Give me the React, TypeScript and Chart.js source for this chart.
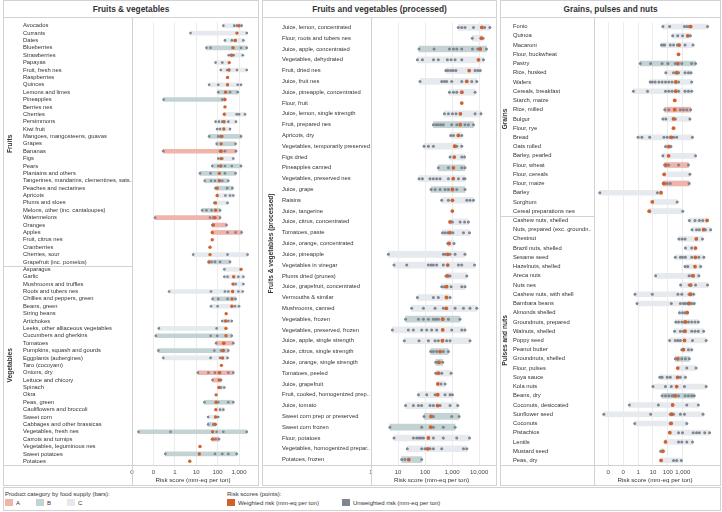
import React, { useEffect, useRef } from "react";
import { Chart, registerables } from "chart.js";

Chart.register(...registerables);

const FONT = "'Liberation Sans', Arial, Helvetica, sans-serif";
Chart.defaults.font.family = FONT;

const CAT_COLORS: Record<string, string> = { A: "#efb4ab", B: "#c3d3d4", C: "#e6eaee" };
const WEIGHTED_COLOR = "#d0602e";
const UNWEIGHTED_COLOR = "#7e8690";
const LINE = "#d2d2d2";
const AXIS_TITLE = "Risk score (mm-eq per ton)";

// ---------------- Panel 1: Fruits & vegetables ----------------
const labels1 = [
  "Avocados", "Currants", "Dates", "Blueberries", "Strawberries", "Papayas", "Fruit, fresh nes", "Raspberries",
  "Quinces", "Lemons and limes", "Pineapples", "Berries nes", "Cherries", "Persimmons", "Kiwi fruit",
  "Mangoes, mangosteens, guavas", "Grapes", "Bananas", "Figs", "Pears", "Plantains and others",
  "Tangerines, mandarins, clementines, sats..", "Peaches and nectarines", "Apricots", "Plums and sloes",
  "Melons, other (inc. cantaloupes)", "Watermelons", "Oranges", "Apples", "Fruit, citrus nes", "Cranberries",
  "Cherries, sour", "Grapefruit (inc. pomelos)",
  "Asparagus", "Garlic", "Mushrooms and truffles", "Roots and tubers nes", "Chillies and peppers, green",
  "Beans, green", "String beans", "Artichokes", "Leeks, other alliaceous vegetables", "Cucumbers and gherkins",
  "Tomatoes", "Pumpkins, squash and gourds", "Eggplants (aubergines)", "Taro (cocoyam)", "Onions, dry",
  "Lettuce and chicory", "Spinach", "Okra", "Peas, green", "Cauliflowers and broccoli", "Sweet corn",
  "Cabbages and other brassicas", "Vegetables, fresh nes", "Carrots and turnips", "Vegetables, leguminous nes",
  "Sweet potatoes", "Potatoes",
];
const categories1 = [
  "C", "C", "C", "B", "C", "C", "C", "C", "C", "B", "B", "C", "C", "C", "C", "B", "B", "A", "C", "B", "B", "B",
  "B", "C", "C", "B", "A", "A", "A", "C", "C", "C", "B",
  "C", "C", "C", "C", "B", "C", "C", "C", "C", "B", "A", "B", "C", "C", "A", "A", "C", "C", "B", "C", "C", "B",
  "B", "A", "C", "B", "A",
];
const weighted1 = [
  1000, 800, 650, 530, 450, 350, 340, 290, 290, 235, 220, 220, 205, 200, 195, 145, 145, 145, 145, 140, 120, 120,
  95, 95, 80, 80, 75, 63, 56, 56, 44, 44, 39,
  1240, 560, 520, 500, 470, 460, 250, 235, 245, 245, 190, 185, 170, 150, 120, 118, 115, 85, 85, 82, 80, 78,
  58, 57, 15, 14, 5,
];
const unweighted1: number[][] = [
  [185, 600, 800, 1330], [5.4, 2300], [220, 460, 700, 1600], [30, 47, 500, 1240, 2300], [330, 560, 1500],
  [80, 165], [140, 280, 800, 2300], [], [40, 107, 870, 1240], [107, 380, 870], [0.3, 165], [],
  [780, 1000, 1900], [80, 115, 165, 316, 720], [95, 130, 380], [40, 107, 165, 1240], [90, 690],
  [0.29, 130, 220, 720], [107, 165, 540], [56, 107, 220, 460, 1240], [15, 47, 220, 690], [25, 49, 75, 165, 316],
  [80, 280, 490], [230, 380, 540], [70, 290], [19, 30, 52, 130], [0.12, 44, 63, 130], [56, 260],
  [290, 690, 1330], [], [], [7.2, 290, 2500], [52, 75, 130, 380],
  [205], [205, 290, 930, 1600], [690, 1600], [0.54, 49, 220, 316, 930, 1480], [58, 107, 290, 690],
  [49, 100, 645, 1000], [], [165, 316, 457], [0.18, 90], [0.13, 47, 95, 457], [85, 205, 540],
  [0.17, 70, 145, 316], [0.29, 47, 130, 290], [], [12, 37, 75, 130, 316, 540], [58, 145], [145, 205], [],
  [24, 107, 316, 540], [130, 185], [36, 107], [36, 63], [0.02, 0.63, 90, 185, 2300], [80, 115], [],
  [0.36, 75, 165, 316, 780], [],
];
const groupNames1 = ["Fruits", "Vegetables"];
const groupSizes1 = [33, 27];
const tickValues1 = [0.01, 0.1, 1, 10, 100, 1000];
const axisRange1 = [0.01, 5000];

// ---------------- Panel 2: Fruits and vegetables (processed) ----------------
const labels2 = [
  "Juice, lemon, concentrated", "Flour, roots and tubers nes", "Juice, apple, concentrated", "Vegetables, dehydrated",
  "Fruit, dried nes", "Juice, fruit nes", "Juice, pineapple, concentrated", "Flour, fruit",
  "Juice, lemon, single strength", "Fruit, prepared nes", "Apricots, dry", "Vegetables, temporarily preserved",
  "Figs dried", "Pineapples canned", "Vegetables, preserved nes", "Juice, grape", "Raisins", "Juice, tangerine",
  "Juice, citrus, concentrated", "Tomatoes, paste", "Juice, orange, concentrated", "Juice, pineapple",
  "Vegetables in vinegar", "Plums dried (prunes)", "Juice, grapefruit, concentrated", "Vermouths & similar",
  "Mushrooms, canned", "Vegetables, frozen", "Vegetables, preserved, frozen", "Juice, apple, single strength",
  "Juice, citrus, single strength", "Juice, orange, single strength", "Tomatoes, peeled", "Juice, grapefruit",
  "Fruit, cooked, homogenized prep..", "Juice, tomato", "Sweet corn prep or preserved", "Sweet corn frozen",
  "Flour, potatoes", "Vegetables, homogenized prepar..", "Potatoes, frozen",
];
const categories2 = [
  "C", "C", "B", "C", "C", "C", "C", "C", "C", "B", "C", "C", "C", "B", "C", "B", "C", "C", "C", "C", "C",
  "C", "C", "C", "C", "C", "C", "B", "C", "C", "B", "B", "C", "C", "C", "C", "B", "B", "C", "C", "B",
];
const weighted2 = [
  12600, 12000, 11000, 9500, 4300, 3500, 2300, 2280, 2030, 2000, 1700, 1250, 1200, 1120, 1100, 1030, 1030, 1020,
  840, 830, 780, 690, 690, 680, 630, 620, 610, 450, 450, 440, 360, 330, 310, 295, 295, 290, 167, 162, 133, 125, 25,
];
const unweighted2: number[][] = [
  [1700, 2270, 3000, 6200, 16000, 25000], [5600, 14000], [60, 215, 800, 1120, 1490, 2280, 5700, 8900, 18700],
  [52, 80, 205, 310, 670, 920, 1290, 2280, 14500], [590, 700, 890, 1100, 1380, 7100, 9000, 11000],
  [65, 414, 520, 630, 970, 2280, 5350, 8200], [800, 1120, 1490, 7100], [], [520, 730, 1030, 1400, 7100, 11700],
  [203, 260, 310, 380, 475, 970, 1490, 3000, 4000, 6200], [890, 1120, 2280], [92, 133, 203, 1490, 2280],
  [840, 2280, 2900], [310, 730, 2280, 3000], [60, 80, 153, 203, 270, 360, 730, 1720, 2640, 3000],
  [167, 235, 360, 550, 730, 1490, 3000], [414, 730, 3500, 4600, 6200], [], [1030, 1990, 2900, 4000],
  [440, 550, 690, 1070, 2640, 4400], [690, 1180], [4.4, 475, 550, 840, 1290, 3000],
  [7.1, 21, 133, 170, 203, 270, 475, 1720, 2280, 6800], [590, 840, 3500], [414, 520, 920, 2280, 3000],
  [52, 203, 310, 840], [32, 87, 235, 475, 1290, 2640, 4600, 8200], [19, 57, 87, 133, 203, 250, 310, 730, 1960],
  [6.2, 24, 37, 75, 115, 175, 270, 970, 2280, 3000], [17, 60, 133, 235, 310, 630, 840, 4600],
  [162, 203, 270, 475, 730], [250, 310, 450], [250, 414, 920], [390, 550], [57, 115, 235, 550, 840, 1030],
  [19, 37, 57, 75, 153, 203, 360, 840, 1620], [92, 203, 970, 1820], [5, 75, 203, 475, 1290],
  [7.1, 37, 49, 60, 71, 87, 203, 475, 1490, 4400], [22, 75, 100, 153, 203, 414, 2640, 3500], [13.7, 18, 75],
];
const groupNames2 = ["Fruits & vegetables (processed)"];
const groupSizes2 = [41];
const tickValues2 = [1, 10, 100, 1000, 10000];
const axisRange2 = [1, 30000];

// ---------------- Panel 3: Grains, pulses and nuts ----------------
const labels3 = [
  "Fonio", "Quinoa", "Macaroni", "Flour, buckwheat", "Pastry", "Rice, husked", "Wafers", "Cereals, breakfast",
  "Starch, maize", "Rice, milled", "Bulgur", "Flour, rye", "Bread", "Oats rolled", "Barley, pearled",
  "Flour, wheat", "Flour, cereals", "Flour, maize", "Barley", "Sorghum", "Cereal preparations nes",
  "Cashew nuts, shelled", "Nuts, prepared (exc. groundn..", "Chestnut", "Brazil nuts, shelled", "Sesame seed",
  "Hazelnuts, shelled", "Areca nuts", "Nuts nes", "Cashew nuts, with shell", "Bambara beans", "Almonds shelled",
  "Groundnuts, prepared", "Walnuts, shelled", "Poppy seed", "Peanut butter", "Groundnuts, shelled",
  "Flour, pulses", "Soya sauce", "Kola nuts", "Beans, dry", "Coconuts, desiccated", "Sunflower seed", "Coconuts",
  "Pistachios", "Lentils", "Mustard seed", "Peas, dry",
];
const categories3 = [
  "C", "C", "C", "C", "B", "C", "C", "C", "C", "A", "C", "C", "C", "C", "C", "A", "C", "A", "C", "C", "C",
  "C", "C", "C", "C", "C", "C", "C", "C", "C", "C", "C", "C", "C", "C", "C", "B", "C", "C", "C", "B", "C",
  "C", "C", "C", "C", "C", "C",
];
const weighted3 = [
  3400, 2150, 570, 520, 470, 390, 340, 335, 290, 290, 240, 240, 170, 115, 112, 75, 56, 52, 35, 9, 5.6,
  43000, 25000, 8100, 7200, 7000, 6600, 5000, 3400, 3300, 2640, 2000, 1500, 1420, 1300, 1100, 470, 460, 450,
  390, 316, 210, 180, 165, 135, 69, 47, 35,
];
const unweighted3: number[][] = [
  [46, 130, 1300, 1860, 2640, 46000], [210, 460, 960, 3250], [37, 50, 61, 145, 240, 440, 1420, 4900], [],
  [1.4, 7, 41, 100, 316, 860, 3970, 7200], [73, 240, 520, 1420, 2390, 3600],
  [6.5, 9, 14, 25, 41, 69, 115, 190, 520, 3970], [0.48, 4.3, 69, 115, 190, 520, 1420, 2390, 3970], [],
  [62, 115, 680, 1100, 1860, 3400], [46, 73, 316, 3000], [], [1.0, 1.8, 6, 54, 90, 150, 240, 390, 4400],
  [70, 160], [46, 7200], [60, 115, 520, 2390], [3000], [60, 90, 145, 2700], [0.0027, 20], [420], [1000],
  [2750, 6600, 13000, 22000], [4200, 8400, 13000, 33000, 75000], [550, 900, 1420, 21000], [1500, 3970],
  [316, 690, 960, 1500, 3970, 12000, 26000], [1420, 2150, 16000], [15, 2640, 4000, 12000],
  [720, 2640, 7200, 46000], [0.62, 9, 470, 860, 2640, 5400], [0.85, 170, 690, 1100, 1500, 2150, 3970, 5900],
  [600, 960, 1420], [340, 520, 860, 1300, 2390, 3970, 6600, 11000], [280, 690, 1100, 3970, 6600, 11000, 25000],
  [130, 316, 470, 690, 4500, 37000], [860, 2390, 3970], [316, 860, 1500, 2750], [1860, 7800],
  [29, 41, 90, 145, 690, 1500], [9.9, 69, 170, 1300, 37000], [41, 69, 115, 190, 240, 520, 1420, 2390, 3970, 5900],
  [0.26, 23, 1860, 11000], [0.005, 7, 145, 240, 690, 1300, 23000], [0.6, 145, 1860],
  [520, 960, 5000, 8400, 13000, 30000, 63000], [520, 860, 1860, 4500], [33], [240, 390, 800],
];
const groupNames3 = ["Grains", "Pulses and nuts"];
const groupSizes3 = [21, 27];
const tickValues3 = [0.01, 0.1, 1, 10, 100, 1000];
const axisRange3 = [0.0011, 170000];

type PanelSpec = {
  title: string; left: number; width: number; padLeft: number; yWidth: number; groupX: number;
  barThickness: number; rU: number; rW: number;
  labels: string[]; categories: string[]; weighted: number[]; unweighted: number[][];
  groupNames: string[]; groupSizes: number[]; tickValues: number[]; axisRange: number[];
};

const PANELS: PanelSpec[] = [
  {
    title: "Fruits & vegetables", left: 3, width: 256, padLeft: 19, yWidth: 109, groupX: 6,
    barThickness: 4, rU: 1.35, rW: 1.7,
    labels: labels1, categories: categories1, weighted: weighted1, unweighted: unweighted1,
    groupNames: groupNames1, groupSizes: groupSizes1, tickValues: tickValues1, axisRange: axisRange1,
  },
  {
    title: "Fruits and vegetables (processed)", left: 262, width: 235, padLeft: 19, yWidth: 89, groupX: 8,
    barThickness: 6, rU: 1.5, rW: 1.9,
    labels: labels2, categories: categories2, weighted: weighted2, unweighted: unweighted2,
    groupNames: groupNames2, groupSizes: groupSizes2, tickValues: tickValues2, axisRange: axisRange2,
  },
  {
    title: "Grains, pulses and nuts", left: 500, width: 221, padLeft: 12, yWidth: 81, groupX: 4,
    barThickness: 5, rU: 1.5, rW: 1.9,
    labels: labels3, categories: categories3, weighted: weighted3, unweighted: unweighted3,
    groupNames: groupNames3, groupSizes: groupSizes3, tickValues: tickValues3, axisRange: axisRange3,
  },
];

const CANVAS_H = 467;

function buildConfig(p: PanelSpec): any {
  const bars = p.labels.map((_, i) => {
    const vals = [...p.unweighted[i], p.weighted[i]];
    return vals.length > 1 ? [Math.min(...vals), Math.max(...vals)] : null;
  });
  const grey: { x: number; y: string }[] = [];
  p.unweighted.forEach((arr, i) => arr.forEach((v) => grey.push({ x: v, y: p.labels[i] })));
  const orange = p.weighted.map((v, i) => ({ x: v, y: p.labels[i] }));

  const decor = {
    id: "decor",
    afterDraw(chart: any) {
      const { ctx, chartArea: a, width, height } = chart;
      ctx.save();
      ctx.strokeStyle = LINE;
      ctx.lineWidth = 1;
      const lx = Math.round(a.left) + 0.5;
      const by = Math.round(a.bottom) + 0.5;
      ctx.beginPath();
      ctx.moveTo(lx, 0);
      ctx.lineTo(lx, height);
      ctx.moveTo(0, by);
      ctx.lineTo(width, by);
      const band = (a.bottom - a.top) / p.labels.length;
      let cum = 0;
      const mids: number[] = [];
      p.groupSizes.forEach((n, gi) => {
        const y0 = a.top + cum * band;
        if (gi > 0) {
          const yy = Math.round(y0) + 0.5;
          ctx.moveTo(0, yy);
          ctx.lineTo(a.left, yy);
        }
        mids.push(y0 + (n * band) / 2);
        cum += n;
      });
      ctx.stroke();
      ctx.fillStyle = "#333";
      ctx.font = `bold 6.6px ${FONT}`;
      ctx.textAlign = "center";
      ctx.textBaseline = "middle";
      p.groupNames.forEach((name, gi) => {
        ctx.save();
        ctx.translate(p.groupX, mids[gi]);
        ctx.rotate(-Math.PI / 2);
        ctx.fillText(name, 0, 0);
        ctx.restore();
      });
      ctx.restore();
    },
  };

  return {
    type: "bar",
    data: {
      labels: p.labels,
      datasets: [
        {
          type: "scatter", data: orange, backgroundColor: WEIGHTED_COLOR, borderWidth: 0,
          pointRadius: p.rW, order: 1,
        },
        {
          type: "scatter", data: grey, backgroundColor: UNWEIGHTED_COLOR, borderWidth: 0,
          pointRadius: p.rU, order: 2,
        },
        {
          type: "bar", data: bars, backgroundColor: p.categories.map((c) => CAT_COLORS[c]),
          barThickness: p.barThickness, borderWidth: 0, borderSkipped: false, order: 3,
        },
      ],
    },
    options: {
      indexAxis: "y",
      responsive: false,
      animation: false,
      devicePixelRatio: 1,
      events: [],
      layout: { padding: { left: p.padLeft, right: 2, top: 0, bottom: 0 } },
      plugins: { legend: { display: false }, tooltip: { enabled: false }, title: { display: false } },
      scales: {
        x: {
          type: "logarithmic",
          position: "bottom",
          bounds: "data",
          min: p.axisRange[0],
          max: p.axisRange[1],
          afterBuildTicks: (s: any) => {
            s.ticks = p.tickValues.map((v) => ({ value: v }));
          },
          afterFit: (s: any) => {
            s.height = 20;
            s.paddingLeft = 0;
            s.paddingRight = 0;
          },
          ticks: {
            autoSkip: false,
            maxRotation: 0,
            padding: 4,
            color: "#444",
            font: { size: 6 },
            callback: (v: any) => Number(v).toLocaleString("en-US", { maximumFractionDigits: 0 }),
          },
          grid: { color: "#ececec", drawTicks: false, lineWidth: 1 },
          border: { display: false },
          title: {
            display: true, text: AXIS_TITLE, color: "#333", font: { size: 6.2 },
            padding: { top: 0, bottom: 1 },
          },
        },
        y: {
          type: "category",
          offset: true,
          grid: { display: false },
          border: { display: false },
          afterFit: (s: any) => {
            s.width = p.yWidth;
            s.paddingTop = 0;
            s.paddingBottom = 0;
          },
          ticks: {
            autoSkip: false,
            crossAlign: "far",
            padding: 0,
            color: "#333",
            font: { size: 5.8 },
          },
        },
      },
    },
    plugins: [decor],
  };
}

function Panel({ p }: { p: PanelSpec }) {
  const ref = useRef<HTMLCanvasElement>(null);
  useEffect(() => {
    const canvas = ref.current;
    if (!canvas) return;
    const chart = new Chart(canvas, buildConfig(p));
    return () => chart.destroy();
  }, [p]);
  return (
    <>
      <div
        style={{
          position: "absolute", left: p.left, top: 0, width: p.width, height: 486,
          border: `1px solid ${LINE}`, boxSizing: "border-box",
        }}
      />
      <div
        style={{
          position: "absolute", left: p.left, top: 0, width: p.width, height: 18,
          borderBottom: `1px solid ${LINE}`, boxSizing: "border-box", display: "flex",
          alignItems: "center", justifyContent: "center", font: `bold 8.3px ${FONT}`, color: "#333",
        }}
      >
        {p.title}
      </div>
      <canvas
        ref={ref}
        width={p.width - 2}
        height={CANVAS_H}
        style={{ position: "absolute", left: p.left + 1, top: 18, width: p.width - 2, height: CANVAS_H }}
      />
    </>
  );
}

const txt = (left: number, top: number, s: string) => (
  <div
    style={{
      position: "absolute", left, top, font: `6px ${FONT}`, color: "#333", whiteSpace: "nowrap", lineHeight: "8px",
    }}
  >
    {s}
  </div>
);
const swatch = (left: number, top: number, color: string) => (
  <div style={{ position: "absolute", left, top, width: 8, height: 7, background: color }} />
);

export default function App() {
  return (
    <div
      style={{
        position: "fixed", left: 0, top: 0, width: 722, height: 512, background: "#fff", overflow: "hidden",
        fontFamily: FONT,
      }}
    >
      {PANELS.map((p) => (
        <Panel key={p.title} p={p} />
      ))}
      <div
        style={{
          position: "absolute", left: 3, top: 487, width: 718, height: 24, border: `1px solid ${LINE}`,
          boxSizing: "border-box",
        }}
      />
      {txt(5, 490, "Product category by food supply (bars):")}
      {swatch(5, 499, CAT_COLORS.A)}
      {txt(16, 498.5, "A")}
      {swatch(36, 499, CAT_COLORS.B)}
      {txt(47, 498.5, "B")}
      {swatch(67, 499, CAT_COLORS.C)}
      {txt(78, 498.5, "C")}
      {txt(227, 490, "Risk scores (points):")}
      {swatch(227, 499, WEIGHTED_COLOR)}
      {txt(238, 498.5, "Weighted risk (mm-eq per ton)")}
      {swatch(342, 499, UNWEIGHTED_COLOR)}
      {txt(353, 498.5, "Unweighted risk (mm-eq per ton)")}
    </div>
  );
}
